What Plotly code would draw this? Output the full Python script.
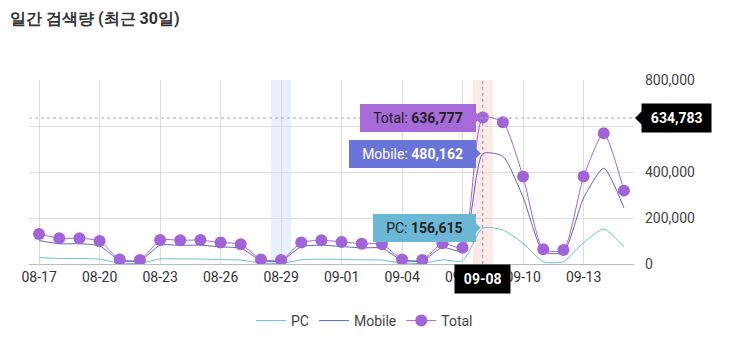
import plotly.graph_objects as go

dates = ["08-17", "08-18", "08-19", "08-20", "08-21", "08-22", "08-23", "08-24", "08-25", "08-26",
         "08-27", "08-28", "08-29", "08-30", "08-31", "09-01", "09-02", "09-03", "09-04", "09-05",
         "09-06", "09-07", "09-08", "09-09", "09-10", "09-11", "09-12", "09-13", "09-14", "09-15"]

pc = [28000, 24000, 24000, 21000, 4000, 3000, 22000, 22000, 22000, 19000,
      17000, 4000, 3000, 18000, 21000, 20000, 18000, 17000, 4000, 3000,
      18000, 14000, 156615, 148000, 90000, 10000, 10000, 93000, 152000, 75000]

mobile = [102000, 88000, 88000, 79000, 16000, 14000, 82000, 81000, 82000, 74000,
          69000, 16000, 14000, 75000, 82000, 76000, 70000, 69000, 16000, 14000,
          72000, 57000, 480162, 468000, 290000, 54000, 51000, 287000, 416000, 244000]

total = [130000, 112000, 112000, 100000, 20000, 17000, 104000, 103000, 104000, 93000,
         86000, 20000, 17000, 93000, 103000, 96000, 88000, 86000, 20000, 17000,
         90000, 71000, 636777, 616000, 380000, 64000, 61000, 380000, 568000, 319000]

tick_dates = ["08-17", "08-20", "08-23", "08-26", "08-29", "09-01", "09-04", "09-07", "09-10", "09-13"]
y_ticks = [0, 200000, 400000, 600000, 800000]

weekend_band = "08-29"
hover_date = "09-08"
hover_y = 634783

FONT = "Roboto"
C_PC = "#6cbcd6"
C_MOB = "#5c66bb"
C_TOT = "#a064d8"

fig = go.Figure()
fig.add_trace(go.Scatter(x=dates, y=pc, name="PC", mode="lines",
                         line=dict(color=C_PC, width=1, shape="spline", smoothing=0.6)))
fig.add_trace(go.Scatter(x=dates, y=mobile, name="Mobile", mode="lines",
                         line=dict(color=C_MOB, width=1, shape="spline", smoothing=0.6)))
fig.add_trace(go.Scatter(x=dates, y=total, name="Total", mode="lines+markers",
                         line=dict(color=C_TOT, width=1, shape="spline", smoothing=0.6),
                         marker=dict(color=C_TOT, size=12)))

bi = dates.index(weekend_band)
hi = dates.index(hover_date)
shapes = [
    dict(type="rect", xref="x", yref="paper", x0=bi - 0.5, x1=bi + 0.5, y0=0, y1=1,
         fillcolor="#e6f1fd", line=dict(width=0), layer="below"),
    dict(type="rect", xref="x", yref="paper", x0=hi - 0.5, x1=hi + 0.5, y0=0, y1=1,
         fillcolor="#fde9e8", line=dict(width=0), layer="below"),
    dict(type="line", xref="x", yref="paper", x0=hi, x1=hi, y0=0, y1=1,
         line=dict(color="#999", width=1, dash="dot")),
    dict(type="line", xref="paper", yref="y", x0=0, x1=1, y0=hover_y, y1=hover_y,
         line=dict(color="#aaa", width=1.2, dash="dot")),
]

tips = [
    ("Total", total[hi], "#a76bd9", "#222"),
    ("Mobile", mobile[hi], "#6a74d8", "#fff"),
    ("PC", pc[hi], "#6cb6d6", "#222"),
]
SP = "\u2002"
annotations = []
for name, val, bg, fc in tips:
    annotations.append(dict(
        x=hover_date, y=val, xref="x", yref="y", xanchor="right", yanchor="middle",
        xshift=-7, showarrow=False, bgcolor=bg, borderpad=6, bordercolor=bg, borderwidth=0,
        text=f"{SP}{name}: <b>{val:,}</b>{SP}", font=dict(family=FONT, size=14, color=fc)))
    # pointer triangle (pixel-sized, anchored at the data point)
    shapes.append(dict(type="path", xref="x", yref="y", xsizemode="pixel", ysizemode="pixel",
                       xanchor=hi, yanchor=val, path="M -8 -6 L -2 0 L -8 6 Z",
                       fillcolor=bg, line=dict(width=0)))

annotations.append(dict(
    x=1, y=hover_y, xref="paper", yref="y", xanchor="left", yanchor="middle", xshift=7,
    showarrow=False, bgcolor="#000", borderpad=6, text=f"\u2009<b>{hover_y:,}</b>\u2009",
    font=dict(family=FONT, size=14, color="#fff")))
shapes.append(dict(type="path", xref="paper", yref="y", xsizemode="pixel", ysizemode="pixel",
                   xanchor=1, yanchor=hover_y, path="M 1 0 L 8 -7 L 8 7 Z",
                   fillcolor="#000", line=dict(width=0)))
annotations.append(dict(
    x=hover_date, y=0, xref="x", yref="paper", xanchor="center", yanchor="top", yshift=0,
    showarrow=False, bgcolor="#000", borderpad=6, text=f"\u2009<b>{hover_date}</b>\u2009",
    font=dict(family=FONT, size=14, color="#fff")))
shapes.append(dict(type="path", xref="x", yref="paper", xsizemode="pixel", ysizemode="pixel",
                   xanchor=hi, yanchor=0, path="M 0 -1 L -6 -7 L 6 -7 Z",
                   fillcolor="#000", line=dict(width=0)))

fig.update_layout(
    width=729, height=337,
    margin=dict(l=29, r=95, t=80, b=73, autoexpand=False),
    paper_bgcolor="#fff", plot_bgcolor="#fff",
    font=dict(family=FONT, size=14, color="#333"),
    title=dict(text="<b>일간 검색량 (최근 30일)</b>", x=10 / 729, xanchor="left",
               y=1 - 18 / 337, yanchor="middle",
               font=dict(family=FONT, size=16, color="#333")),
    xaxis=dict(type="category", range=[-0.5, len(dates) - 0.5], tickmode="array",
               tickvals=tick_dates, ticktext=tick_dates, showgrid=True, gridcolor="#dddddd",
               gridwidth=1, ticks="", showline=True, linecolor="#bbbbbb",
               tickfont=dict(size=14, color="#333")),
    yaxis=dict(side="right", range=[0, 800000], tickvals=y_ticks, tickformat=",d",
               showgrid=True, gridcolor="#dddddd", zeroline=False, ticks="", ticklabelstandoff=10,
               tickfont=dict(size=14, color="#444")),
    legend=dict(orientation="h", xref="container", x=0.5, xanchor="center",
                yref="container", y=1 - 321 / 337, yanchor="middle",
                font=dict(size=14, color="#444"), itemwidth=30),
    shapes=shapes, annotations=annotations,
    hovermode=False, showlegend=True,
)

fig.write_html("out.html")
